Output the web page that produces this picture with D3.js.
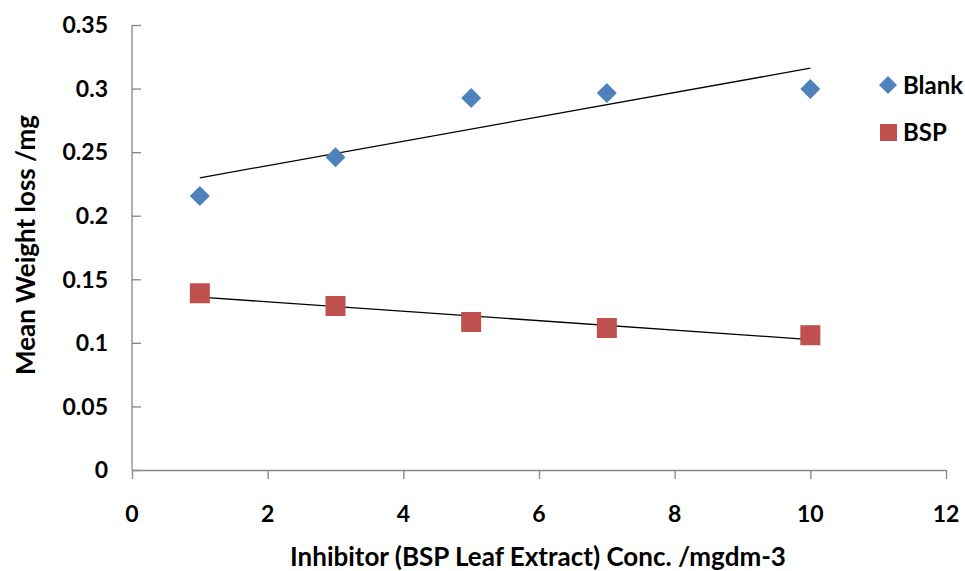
<!DOCTYPE html>
<html>
<head>
<meta charset="utf-8">
<script src="https://cdn.jsdelivr.net/npm/d3@7"></script>
<style>
  body { margin: 0; background: #fff; }
  svg text { font-family: Lato, "Open Sans", sans-serif; font-weight: bold; fill: #000; }
</style>
</head>
<body>
<svg id="chart" width="965" height="571"></svg>
<script>
// data
const conc = [1, 3, 5, 7, 10]
const blank = [0.2155, 0.246, 0.2926, 0.2965, 0.2997]
const bsp = [0.139, 0.129, 0.1164, 0.1117, 0.106]
const xTicks = [0, 2, 4, 6, 8, 10, 12]
const yTicks = [0, 0.05, 0.1, 0.15, 0.2, 0.25, 0.3, 0.35]

const svg = d3.select('#chart')
const x = d3.scaleLinear().domain([0, 12]).range([132, 946])
const y = d3.scaleLinear().domain([0, 0.35]).range([470, 25])

// y axis, ticks pointing into the plot
const yAxis = svg.append('g').attr('transform', 'translate(132,0)')
  .call(d3.axisRight(y).tickValues(yTicks).tickSize(9))
yAxis.selectAll('text').remove()
yAxis.select('.domain').attr('d', 'M0,' + y(0.35) + 'V' + y(0))
yAxis.selectAll('path, line').attr('stroke', '#868686').attr('stroke-width', 1.3)
svg.append('g').selectAll('text').data(yTicks).join('text')
  .attr('x', 108).attr('y', d => y(d)).attr('dy', '0.36em')
  .attr('text-anchor', 'end').attr('font-size', 23)
  .text(d => +d.toFixed(2))

// x axis
const xAxis = svg.append('g').attr('transform', 'translate(0,470)')
  .call(d3.axisBottom(x).tickValues(xTicks).tickSize(9).tickSizeOuter(0))
xAxis.selectAll('text').remove()
xAxis.selectAll('path, line').attr('stroke', '#868686').attr('stroke-width', 1.3)
svg.append('g').selectAll('text').data(xTicks).join('text')
  .attr('x', d => x(d)).attr('y', 522)
  .attr('text-anchor', 'middle').attr('font-size', 23)
  .text(d => d)

// linear trend lines (least squares over each series)
function fit(xs, ys) {
  const mx = d3.mean(xs), my = d3.mean(ys)
  const sxy = d3.sum(xs, (v, i) => (v - mx) * (ys[i] - my))
  const sxx = d3.sum(xs, v => (v - mx) * (v - mx))
  const b = sxy / sxx
  return v => my + b * (v - mx)
}
const line = d3.line().x(d => x(d[0])).y(d => y(d[1]))
for (const ys of [blank, bsp]) {
  const f = fit(conc, ys)
  const ends = d3.extent(conc)
  svg.append('path')
    .attr('d', line(ends.map(v => [v, f(v)])))
    .attr('fill', 'none').attr('stroke', '#000').attr('stroke-width', 1.3)
}

// markers
const diamond = s => 'M0,' + (-s) + 'L' + s + ',0L0,' + s + 'L' + (-s) + ',0Z'
svg.append('g').selectAll('path').data(conc).join('path')
  .attr('transform', (d, i) => 'translate(' + x(d) + ',' + y(blank[i]) + ')')
  .attr('d', diamond(10)).attr('fill', '#4F81BD')
svg.append('g').selectAll('rect').data(conc).join('rect')
  .attr('x', d => x(d) - 10).attr('y', (d, i) => y(bsp[i]) - 10)
  .attr('width', 20).attr('height', 20).attr('fill', '#C0504D')

// legend
const legend = svg.append('g')
legend.append('path').attr('transform', 'translate(888,85)').attr('d', diamond(9)).attr('fill', '#4F81BD')
legend.append('text').attr('x', 903).attr('y', 85).attr('dy', '0.36em').attr('font-size', 24).text('Blank')
legend.append('rect').attr('x', 880).attr('y', 124).attr('width', 17).attr('height', 17).attr('fill', '#C0504D')
legend.append('text').attr('x', 903).attr('y', 132).attr('dy', '0.36em').attr('font-size', 24).text('BSP')

// axis titles
svg.append('text').attr('x', 538).attr('y', 566).attr('text-anchor', 'middle')
  .attr('font-size', 26).text('Inhibitor (BSP Leaf Extract) Conc. /mgdm-3')
svg.append('text').attr('transform', 'translate(35,245) rotate(-90)').attr('text-anchor', 'middle')
  .attr('font-size', 26).text('Mean Weight loss /mg')
</script>
</body>
</html>
